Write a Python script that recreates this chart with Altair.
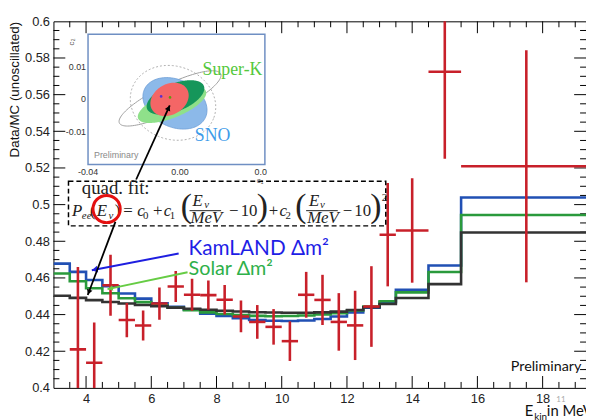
import numpy as np
import pandas as pd
import altair as alt

# ---------------- data ----------------
bin_edges = [3.0, 3.5, 4.0, 4.5, 5.0, 5.5, 6.0, 6.5, 7.0, 7.5, 8.0, 8.5, 9.0,
             9.5, 10.0, 10.5, 11.0, 11.5, 12.0, 12.5, 13.0, 13.5, 14.5, 15.5, 19.5]
kamland_dm2 = [0.4678, 0.4633, 0.4589, 0.4555, 0.4515, 0.4487, 0.4462, 0.4443,
               0.4427, 0.4405, 0.4392, 0.4380, 0.4370, 0.4366, 0.4365, 0.4368,
               0.4376, 0.4390, 0.4412, 0.4438, 0.4467, 0.4535, 0.4668, 0.5039]
solar_dm2 = [0.4624, 0.4582, 0.4544, 0.4516, 0.4489, 0.4468, 0.4451, 0.4437,
             0.4424, 0.4412, 0.4403, 0.4397, 0.4393, 0.4391, 0.4392, 0.4395,
             0.4400, 0.4408, 0.4422, 0.4444, 0.4473, 0.4521, 0.4632, 0.4943]
quad_fit = [0.4503, 0.4491, 0.4479, 0.4469, 0.4460, 0.4452, 0.4445, 0.4438,
            0.4432, 0.4426, 0.4421, 0.4417, 0.4413, 0.4411, 0.4410, 0.4410,
            0.4412, 0.4416, 0.4425, 0.4440, 0.4458, 0.4490, 0.4566, 0.4848]

data_x = [3.75, 4.25, 4.75, 5.25, 5.75, 6.25, 6.75, 7.25, 7.75, 8.25, 8.75, 9.25,
          9.75, 10.25, 10.75, 11.25, 11.75, 12.25, 12.75, 13.25, 14.0, 15.0, 17.5]
data_xerr = [0.25, 0.25, 0.25, 0.25, 0.25, 0.25, 0.25, 0.25, 0.25, 0.25, 0.25, 0.25,
             0.25, 0.25, 0.25, 0.25, 0.25, 0.25, 0.25, 0.25, 0.5, 0.5, 2.0]
data_y = [0.4210, 0.4137, 0.4560, 0.4370, 0.4340, 0.4460, 0.4553, 0.4508, 0.4506,
          0.4481, 0.4390, 0.4360, 0.4333, 0.4255, 0.4508, 0.4480, 0.4360, 0.4341,
          0.4444, 0.4836, 0.4859, 0.5725, 0.5209]
data_yerr = [0.0450, 0.0220, 0.0167, 0.0093, 0.0082, 0.0088, 0.0085, 0.0087, 0.0080,
             0.0080, 0.0087, 0.0092, 0.0097, 0.0108, 0.0125, 0.0137, 0.0157, 0.0189,
             0.0220, 0.0282, 0.0285, 0.0475, 0.0633]

x_tick_labels = [4, 6, 8, 10, 12, 14, 16, 18]
y_tick_labels = [0.4, 0.42, 0.44, 0.46, 0.48, 0.5, 0.52, 0.54, 0.56, 0.58, 0.6]

# inset contour shapes: centre c1, centre c2, semi-axes (px), tilt (deg)
contours = {
    "outer_dotted": (-0.00156, -0.00106, 44, 37, -20),
    "outer_solid": (-0.00291, 0.00030, 57, 14, 26),
    "sno": (-0.00067, -0.00121, 34, 24, -25),
    "superk": (-0.00201, -0.00167, 37, 13, 22),
    "combined": (-0.00045, 0.00061, 31, 14, 22),
    "best": (-0.00313, 0.00000, 20.5, 15.5, 30),
}
best_points_c1 = [-0.00693, -0.00291]
best_points_c2 = [0.00091, 0.00061]

# ---------------- style ----------------
SANS = "Liberation Sans"
LATO = "Lato"
SERIF = "Liberation Serif"
RED = "#c8202a"
BLUE = "#2150b4"
GREEN = "#2a9a3c"
BLACK = "#333333"

W, H = 539, 371
X_DOM = [3.0, 19.33]
Y_DOM = [0.4, 0.6]
PX_X = W / (X_DOM[1] - X_DOM[0])
PX_Y = H / (Y_DOM[1] - Y_DOM[0])

xscale = alt.Scale(domain=X_DOM, nice=False, zero=False)
yscale = alt.Scale(domain=Y_DOM, nice=False, zero=False)
xaxis = alt.Axis(values=x_tick_labels, title=None, grid=False, domain=False,
                 ticks=False, tickSize=0, labelFont=SANS, labelFontSize=13,
                 labelColor="#222222", labelPadding=5)
yaxis = alt.Axis(values=y_tick_labels, format="~g", title="Data/MC (unoscillated)",
                 titleAnchor="end", titleFont=SANS, titleFontSize=13.5,
                 titleFontWeight="normal", titleColor="#111111", titlePadding=3,
                 grid=False, domain=False, ticks=False, tickSize=0, labelFont=SANS,
                 labelFontSize=13, labelColor="#222222", labelPadding=4)


def MX(f):
    return alt.X(f + ":Q", scale=xscale, axis=xaxis)


def MY(f):
    return alt.Y(f + ":Q", scale=yscale, axis=yaxis)


# ---------------- main layer ----------------
xt = np.round(np.arange(3.5, X_DOM[1], 0.5), 2)
yt = np.round(np.arange(0.405, 0.6, 0.005), 3)
rows_tb = []
for v in xt:
    L = (12 if abs(v % 2) < 1e-9 else 6) / PX_Y
    rows_tb.append({"x": v, "y": Y_DOM[0], "y2": Y_DOM[0] + L})
    rows_tb.append({"x": v, "y": Y_DOM[1], "y2": Y_DOM[1] - L})
rows_lr = []
for v in yt:
    major = abs(round(v / 0.02) * 0.02 - v) < 1e-9
    L = (12 if major else 6) / PX_X
    rows_lr.append({"y": v, "x": X_DOM[0], "x2": X_DOM[0] + L})
    rows_lr.append({"y": v, "x": X_DOM[1], "x2": X_DOM[1] - L})

ticks_tb = alt.Chart(pd.DataFrame(rows_tb)).mark_rule(color="black", strokeWidth=1).encode(
    x=MX("x"), y=MY("y"), y2="y2")
ticks_lr = alt.Chart(pd.DataFrame(rows_lr)).mark_rule(color="black", strokeWidth=1).encode(
    y=MY("y"), x=MX("x"), x2="x2")


def step_frame(vals):
    return pd.DataFrame({"x": bin_edges, "y": list(vals) + [vals[-1]]})


def step_line(vals, color):
    return alt.Chart(step_frame(vals)).mark_line(
        interpolate="step-after", color=color, strokeWidth=2.6, clip=True
    ).encode(x=MX("x"), y=MY("y"))


pts = pd.DataFrame({"x": data_x, "y": data_y})
pts["xlo"] = pts["x"] - np.array(data_xerr)
pts["xhi"] = pts["x"] + np.array(data_xerr)
pts["lo"] = pts["y"] - np.array(data_yerr)
pts["hi"] = pts["y"] + np.array(data_yerr)

err_v = alt.Chart(pts).mark_rule(color=RED, strokeWidth=2.6, clip=True).encode(
    x=MX("x"), y=MY("lo"), y2="hi")
err_h = alt.Chart(pts).mark_rule(color=RED, strokeWidth=2.6, clip=True).encode(
    x=MX("xlo"), x2="xhi", y=MY("y"))

main = alt.layer(ticks_tb, ticks_lr,
                 step_line(kamland_dm2, BLUE),
                 step_line(solar_dm2, GREEN),
                 step_line(quad_fit, BLACK),
                 err_v, err_h)

# ---------------- inset (c1, c2 contour plot) ----------------
ixs = alt.Scale(domain=[-0.04, 0.04], range=[35, 214], nice=False, zero=False)
iys = alt.Scale(domain=[-0.02, 0.02], range=[145, 13], nice=False, zero=False)
PX_C1 = 179 / 0.08
PX_C2 = 132 / 0.04


def IX(f):
    return alt.X(f + ":Q", scale=ixs, axis=None)


def IY(f):
    return alt.Y(f + ":Q", scale=iys, axis=None)


def outline(c1, c2, a, b, ang):
    t = np.linspace(0, 2 * np.pi, 121)
    th = np.radians(ang)
    X = a * np.cos(t) * np.cos(th) - b * np.sin(t) * np.sin(th)
    Y = a * np.cos(t) * np.sin(th) + b * np.sin(t) * np.cos(th)
    return pd.DataFrame({"c1": c1 + X / PX_C1, "c2": c2 + Y / PX_C2, "k": np.arange(len(t))})


def band(c1, c2, a, b, ang):
    th = np.radians(ang)
    s, c = np.sin(th), np.cos(th)
    w = np.sqrt(a * a * c * c + b * b * s * s)
    X = w * np.cos(np.linspace(np.pi, 0, 121))
    A = s * s / a ** 2 + c * c / b ** 2
    B = 2 * X * s * c * (1 / a ** 2 - 1 / b ** 2)
    C = X ** 2 * (c * c / a ** 2 + s * s / b ** 2) - 1
    D = np.sqrt(np.clip(B * B - 4 * A * C, 0, None))
    lo = (-B - D) / (2 * A)
    hi = (-B + D) / (2 * A)
    return pd.DataFrame({"c1": c1 + X / PX_C1, "lo": c2 + lo / PX_C2, "hi": c2 + hi / PX_C2})


def fill_layer(key, color):
    return alt.Chart(band(*contours[key])).mark_area(color=color, opacity=1).encode(
        x=IX("c1"), y=IY("lo"), y2="hi")


def line_layer(key, color, width=1.0, dash=None):
    kw = dict(color=color, strokeWidth=width)
    if dash:
        kw["strokeDash"] = dash
    return alt.Chart(outline(*contours[key])).mark_line(**kw).encode(
        x=IX("c1"), y=IY("c2"), order="k:Q")


frame = alt.Chart(pd.DataFrame({"a": [-0.04], "b": [0.04], "c": [-0.02], "d": [0.02]})).mark_rect(
    fill="white", stroke="#6f8fc3", strokeWidth=1.5).encode(
    x=IX("a"), x2="b", y=IY("c"), y2="d")

dots = alt.Chart(pd.DataFrame({"c1": best_points_c1, "c2": best_points_c2,
                               "col": ["#5a2fd0", "#5f9a10"]})).mark_point(
    filled=True, size=7, opacity=1).encode(x=IX("c1"), y=IY("c2"),
                                           color=alt.Color("col:N", scale=None))


def itext(rows, **kw):
    df = pd.DataFrame(rows, columns=["t", "c1", "c2"])
    return alt.Chart(df).mark_text(**kw).encode(x=IX("c1"), y=IY("c2"), text="t:N")


inset = alt.layer(
    frame,
    line_layer("outer_dotted", "#b0b0b0", 1.0, [2, 2]),
    line_layer("outer_solid", "#a0a0a0", 1.0),
    fill_layer("sno", "#8cb9e9"),
    line_layer("sno", "#6f9fd6", 0.8),
    fill_layer("superk", "#8fe08a"),
    fill_layer("combined", "#15965a"),
    fill_layer("best", "#f46666"),
    dots,
    itext([["Super-K", 0.0118, 0.0091]], font=SERIF, fontSize=18, color="#55c83c",
          align="left", baseline="middle"),
    itext([["SNO", 0.0083, -0.0112]], font=SERIF, fontSize=18, color="#3d9be9",
          align="left", baseline="middle"),
    itext([["Preliminary", -0.0373, -0.0170]], font=SANS, fontSize=9, color="#8a8a8a",
          align="left", baseline="middle"),
    itext([["0.01", -0.0409, 0.010], ["0", -0.0409, 0.0], ["-0.01", -0.0409, -0.010]],
          font=SANS, fontSize=9, color="#333333", align="right", baseline="middle"),
    itext([["-0.04", -0.040, -0.0224], ["0.00", 0.0016, -0.0224]],
          font=SANS, fontSize=9, color="#333333", align="center", baseline="middle"),
    itext([["0.0", 0.0353, -0.0224]], font=SANS, fontSize=9, color="#333333",
          align="left", baseline="middle"),
    itext([["c₁", 0.0378, -0.0250]], font=SANS, fontSize=8, color="#555555",
          align="center", baseline="middle"),
    itext([["c₂", -0.0472, 0.0176]], font=SANS, fontSize=8, color="#555555",
          align="center", baseline="middle", angle=270),
)

# ---------------- annotations (main coordinates) ----------------
axs = alt.Scale(domain=X_DOM, nice=False, zero=False)
ays = alt.Scale(domain=Y_DOM, nice=False, zero=False)


def AX(f):
    return alt.X(f + ":Q", scale=axs, axis=None)


def AY(f):
    return alt.Y(f + ":Q", scale=ays, axis=None)


def arrow(x1, y1, x2, y2, color, width, head):
    seg = pd.DataFrame({"x": [x1], "y": [y1], "x2": [x2], "y2": [y2]})
    line = alt.Chart(seg).mark_rule(color=color, strokeWidth=width).encode(
        x=AX("x"), x2="x2", y=AY("y"), y2="y2")
    dxp = (x2 - x1) * PX_X
    dyp = (y2 - y1) * PX_Y
    Lp = float(np.hypot(dxp, dyp))
    hx = x2 - dxp / Lp * 3.0 / PX_X
    hy = y2 - dyp / Lp * 3.0 / PX_Y
    ang = float(np.degrees(np.arctan2(dxp, dyp)) % 360)
    tip = alt.Chart(pd.DataFrame({"x": [hx], "y": [hy]})).mark_point(
        shape="triangle-up", filled=True, color=color, size=head, angle=ang, opacity=1
    ).encode(x=AX("x"), y=AY("y"))
    return [line, tip]


def atext(rows, **kw):
    df = pd.DataFrame(rows, columns=["t", "x", "y", "s"])
    return alt.Chart(df).mark_text(**kw).encode(
        x=AX("x"), y=AY("y"), text="t:N", size=alt.Size("s:Q", scale=None))


box = alt.Chart(pd.DataFrame({"a": [3.461], "b": [13.19], "c": [0.4884], "d": [0.5127]})).mark_rect(
    fillOpacity=0, stroke="black", strokeWidth=1.5, strokeDash=[5, 3]).encode(
    x=AX("a"), x2="b", y=AY("c"), y2="d")

formula_italic = [
    ["P", 3.567, 0.4938, 17], ["ee", 3.870, 0.4922, 11],
    ["E", 4.324, 0.4938, 17], ["ν", 4.688, 0.4922, 11],
    ["c", 5.567, 0.4938, 17], ["c", 6.385, 0.4938, 17],
    ["E", 7.264, 0.4992, 17], ["ν", 7.627, 0.4981, 11], ["MeV", 7.203, 0.4900, 17],
    ["c", 9.930, 0.4938, 17],
    ["E", 10.839, 0.4992, 17], ["ν", 11.173, 0.4981, 11], ["MeV", 10.779, 0.4900, 17],
]
formula_roman = [
    ["quad. fit:", 3.870, 0.5057, 19],
    ["(", 4.120, 0.4938, 17], [")", 4.880, 0.4938, 17],
    ["=", 5.142, 0.4938, 17], ["0", 5.748, 0.4922, 11],
    ["+", 6.052, 0.4938, 17], ["1", 6.567, 0.4922, 11],
    ["−", 8.385, 0.4938, 17], ["10", 8.740, 0.4938, 17],
    ["+", 9.600, 0.4938, 17], ["2", 10.112, 0.4922, 11],
    ["−", 11.870, 0.4938, 17], ["10", 12.225, 0.4938, 17], ["2", 13.070, 0.5019, 11],
    ["(", 6.900, 0.4931, 34], [")", 9.233, 0.4931, 34],
    ["(", 10.415, 0.4931, 34], [")", 12.718, 0.4931, 34],
]
frac_bars = alt.Chart(pd.DataFrame({"a": [7.173, 10.748], "b": [8.142, 11.718],
                                    "y": [0.4967, 0.4967]})).mark_rule(
    color="#222222", strokeWidth=1).encode(x=AX("a"), x2="b", y=AY("y"))

circle = alt.Chart(pd.DataFrame({"x": [4.630], "y": [0.4976]})).mark_point(
    shape="circle", size=760, stroke="#e41010", strokeWidth=3, filled=False, opacity=1
).encode(x=AX("x"), y=AY("y"))

annot_layers = [box, frac_bars,
                atext(formula_italic, font=SERIF, fontStyle="italic", color="#222222",
                      align="left", baseline="alphabetic"),
                atext(formula_roman, font=SERIF, color="#222222",
                      align="left", baseline="alphabetic"),
                circle]
annot_layers += arrow(6.839, 0.4733, 4.176, 0.4642, "#1e1ee0", 2.0, 45)
annot_layers += arrow(7.112, 0.4631, 4.658, 0.4539, "#66cc44", 2.0, 30)
annot_layers += arrow(4.900, 0.4906, 4.052, 0.4507, "black", 1.8, 35)
annot_layers += arrow(5.536, 0.5137, 6.567, 0.5542, "black", 1.8, 35)
annot_layers += [
    atext([["KamLAND Δm²", 7.142, 0.4760, 21]], font=LATO, color="#1e1ee6",
          align="left", baseline="middle"),
    atext([["Solar Δm²", 7.142, 0.4647, 20]], font=LATO, color="#2eb04a",
          align="left", baseline="middle"),
    atext([["Preliminary", 19.19, 0.4113, 14.5]], font=LATO, color="#111111",
          align="right", baseline="middle"),
    atext([["E", 17.45, 0.3849, 15], ["in MeV", 18.13, 0.3849, 15]], font=LATO,
          color="#111111", align="left", baseline="alphabetic"),
    atext([["kin", 17.74, 0.3826, 10]], font=LATO, color="#111111",
          align="left", baseline="alphabetic"),
    atext([["11", 18.42, 0.3935, 8]], font=LATO, color="#aaaaaa",
          align="left", baseline="middle"),
]
annot = alt.layer(*annot_layers)

chart = alt.layer(main, inset, annot).resolve_scale(
    x="independent", y="independent"
).properties(
    width=W, height=H,
    padding={"left": 46, "top": 11, "right": 0, "bottom": 30},
    autosize=alt.AutoSizeParams(type="none"),
).configure_view(stroke="black", strokeWidth=1)

chart.save("out.html", embed_options={"renderer": "svg", "actions": False})
